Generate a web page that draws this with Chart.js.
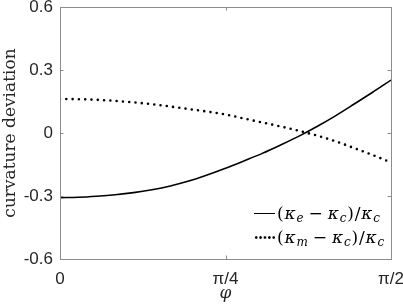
<!DOCTYPE html>
<html>
<head>
<meta charset="utf-8">
<script src="https://cdn.jsdelivr.net/npm/chart.js@4"></script>
<style>
  html, body { margin:0; padding:0; background:#fff; }
  #wrap { position:relative; width:403px; height:305px; overflow:hidden; }
  #legend { position:absolute; left:254px; top:201px; font-family:"DejaVu Serif", serif; font-size:17px; color:#000; letter-spacing:0.8px; }
  .row { height:24px; line-height:24px; white-space:nowrap; }
  .sample { display:inline-block; width:21px; height:3px; vertical-align:middle; margin-right:2px; position:relative; top:-1px; }
  .solid { border-top:1.6px solid #000; height:0; }
  .dots { background:radial-gradient(circle, #000 1.1px, rgba(0,0,0,0) 1.5px); background-size:4.4px 3px; background-repeat:repeat-x; }
  .k { font-style:italic; }
  sub { font-size:12px; font-style:italic; vertical-align:-3px; line-height:0; }
</style>
</head>
<body>
<div id="wrap">
  <canvas id="c" width="403" height="305"></canvas>
  <div id="legend">
    <div class="row"><span class="sample solid"></span>(<span class="k">κ</span><sub>e</sub>&#8201;−&#8201;<span class="k">κ</span><sub>c</sub>)/<span class="k">κ</span><sub>c</sub></div>
    <div class="row"><span class="sample dots"></span>(<span class="k">κ</span><sub>m</sub>&#8201;−&#8201;<span class="k">κ</span><sub>c</sub>)/<span class="k">κ</span><sub>c</sub></div>
  </div>
</div>
<script>
// angle phi in degrees (0 .. 90 = pi/2)
const phiDeg = [0, 5, 10, 15, 20, 25, 30, 35, 40, 45, 50, 55, 60, 65, 70, 75, 80, 85, 90];
const devE   = [-0.308, -0.306, -0.301, -0.294, -0.284, -0.270, -0.252, -0.229, -0.200, -0.168,
                -0.133, -0.097, -0.057, -0.015, 0.032, 0.083, 0.138, 0.194, 0.252];
const devM   = [0.162, 0.161, 0.158, 0.153, 0.146, 0.137, 0.126, 0.114, 0.102, 0.088,
                0.069, 0.050, 0.031, 0.010, -0.013, -0.040, -0.072, -0.105, -0.140];
const xTickValues = [0, 45, 90];
const xTickLabels = ['0', 'π/4', 'π/2'];
const yTickValues = [-0.6, -0.3, 0, 0.3, 0.6];
const yTickLabels = ['-0.6', '-0.3', '0', '0.3', '0.6'];

const axisColor = '#8c8c8c';
const textColor = '#262626';

const boxPlugin = {
  id: 'boxer',
  afterDraw(chart) {
    const ctx = chart.ctx, a = chart.chartArea;
    const xs = chart.scales.x, ys = chart.scales.y;
    ctx.save();
    ctx.strokeStyle = axisColor;
    ctx.lineWidth = 1;
    ctx.strokeRect(Math.round(a.left) + 0.5, Math.round(a.top) + 0.5, Math.round(a.right - a.left), Math.round(a.bottom - a.top));
    const L = 3.5;
    ctx.beginPath();
    xTickValues.forEach(v => {
      const px = Math.round(xs.getPixelForValue(v)) + 0.5;
      ctx.moveTo(px, a.bottom); ctx.lineTo(px, a.bottom - L);
      ctx.moveTo(px, a.top); ctx.lineTo(px, a.top + L);
    });
    yTickValues.forEach(v => {
      const py = Math.round(ys.getPixelForValue(v)) + 0.5;
      ctx.moveTo(a.left, py); ctx.lineTo(a.left + L, py);
      ctx.moveTo(a.right, py); ctx.lineTo(a.right - L, py);
    });
    ctx.stroke();
    ctx.restore();
  }
};

function zeroPad(s) { s.paddingTop = 0; s.paddingBottom = 0; s.paddingLeft = 0; s.paddingRight = 0; }

new Chart(document.getElementById('c'), {
  type: 'line',
  data: {
    datasets: [
      {
        label: '(κe − κc)/κc',
        data: phiDeg.map((p, i) => ({x: p, y: devE[i]})),
        borderColor: '#000', borderWidth: 1.6,
        pointRadius: 0, cubicInterpolationMode: 'monotone', fill: false
      },
      {
        label: '(κm − κc)/κc',
        data: phiDeg.map((p, i) => ({x: p, y: devM[i]})),
        borderColor: '#000', borderWidth: 2.6,
        borderDash: [0, 6.3], borderCapStyle: 'round',
        pointRadius: 0, cubicInterpolationMode: 'monotone', fill: false
      }
    ]
  },
  options: {
    responsive: false,
    animation: false,
    layout: { autoPadding: false, padding: { top: 7, right: 12, left: 0, bottom: 0 } },
    plugins: { legend: { display: false }, tooltip: { enabled: false } },
    scales: {
      x: {
        type: 'linear', min: 0, max: 90,
        afterBuildTicks: s => { s.ticks = xTickValues.map(v => ({value: v})); },
        afterFit: s => { s.height = 46; zeroPad(s); },
        grid: { display: false, drawTicks: false },
        border: { display: false },
        ticks: {
          padding: 10, color: textColor, maxRotation: 0, autoSkip: false,
          font: { family: '"Liberation Sans", Arial, sans-serif', size: 17 },
          callback: (v, i) => xTickLabels[i]
        },
        title: {
          display: true, text: 'φ', color: textColor,
          font: { family: '"DejaVu Serif", serif', size: 17, style: 'italic' },
          padding: { top: 0, bottom: 1 }
        }
      },
      y: {
        type: 'linear', min: -0.6, max: 0.6,
        afterBuildTicks: s => { s.ticks = yTickValues.map(v => ({value: v})); },
        afterFit: s => { s.width = 60; zeroPad(s); },
        grid: { display: false, drawTicks: false },
        border: { display: false },
        ticks: {
          padding: 7, color: textColor, autoSkip: false,
          font: { family: '"Liberation Sans", Arial, sans-serif', size: 17 },
          callback: (v, i) => yTickLabels[i]
        },
        title: {
          display: true, text: 'curvature deviation', color: textColor,
          font: { family: '"DejaVu Serif", serif', size: 17 },
          padding: { top: 0, bottom: 0 }
        }
      }
    }
  },
  plugins: [boxPlugin]
});
</script>
</body>
</html>
